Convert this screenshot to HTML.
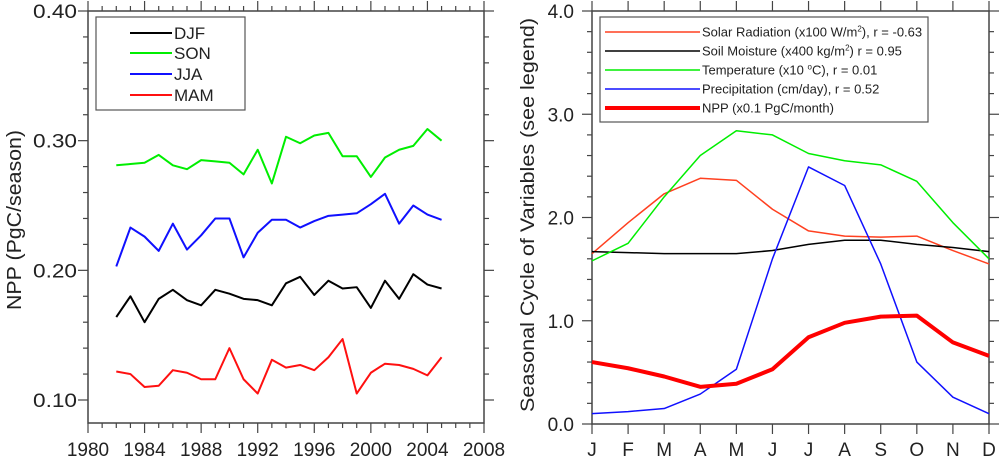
<!DOCTYPE html>
<html><head><meta charset="utf-8"><style>
body{margin:0;background:#fff;}
svg{display:block;font-family:"Liberation Sans",sans-serif;}
</style></head><body>
<svg id="c" width="1000" height="460"></svg>
<script>
const years=[1982,1983,1984,1985,1986,1987,1988,1989,1990,1991,1992,1993,1994,1995,1996,1997,1998,1999,2000,2001,2002,2003,2004,2005];
const djf=[0.164,0.180,0.160,0.178,0.185,0.177,0.173,0.185,0.182,0.178,0.177,0.173,0.190,0.195,0.181,0.192,0.186,0.187,0.171,0.192,0.178,0.197,0.189,0.186];
const son=[0.281,0.282,0.283,0.289,0.281,0.278,0.285,0.284,0.283,0.274,0.293,0.267,0.303,0.298,0.304,0.306,0.288,0.288,0.272,0.287,0.293,0.296,0.309,0.300];
const jja=[0.203,0.233,0.226,0.215,0.236,0.216,0.227,0.240,0.240,0.210,0.229,0.239,0.239,0.233,0.238,0.242,0.243,0.244,0.251,0.259,0.236,0.250,0.243,0.239];
const mam=[0.122,0.120,0.110,0.111,0.123,0.121,0.116,0.116,0.140,0.116,0.105,0.131,0.125,0.127,0.123,0.133,0.147,0.105,0.121,0.128,0.127,0.124,0.119,0.133];
const xTicksL=[1980,1984,1988,1992,1996,2000,2004,2008];
const yTicksL=[0.10,0.20,0.30,0.40];
const months=["J","F","M","A","M","J","J","A","S","O","N","D"];
const solar=[1.65,1.95,2.23,2.38,2.36,2.08,1.87,1.82,1.81,1.82,1.68,1.55];
const soil=[1.67,1.66,1.65,1.65,1.65,1.68,1.74,1.78,1.78,1.74,1.71,1.67];
const temp=[1.58,1.75,2.20,2.60,2.84,2.80,2.62,2.55,2.51,2.35,1.95,1.60];
const precip=[0.10,0.12,0.15,0.29,0.53,1.60,2.49,2.31,1.55,0.60,0.26,0.10];
const npp=[0.60,0.54,0.46,0.36,0.39,0.53,0.84,0.98,1.04,1.05,0.79,0.66];
const yTicksR=[0,1,2,3,4];

const svg=document.getElementById('c');
const NS='http://www.w3.org/2000/svg';
function el(tag,attrs,parent){const e=document.createElementNS(NS,tag);for(const k in attrs)e.setAttribute(k,attrs[k]);(parent||svg).appendChild(e);return e;}

const L={x0:88,x1:484,y0:423,y1:11};
const lx=v=>L.x0+(v-1980)/28*(L.x1-L.x0);
const ly=v=>400-(v-0.10)/0.30*389;
const R={x0:592,x1:989,y0:424,y1:11};
const rx=i=>R.x0+i/11*(R.x1-R.x0);
const ry=v=>R.y0-v/4*(R.y0-R.y1);

function frame(A,name){
  const r=el('rect',{x:A.x0,y:A.y1,width:A.x1-A.x0,height:A.y0-A.y1,fill:'none',stroke:'#444','stroke-width':1.5});
  
  
}
frame(L,'left-plot-frame');frame(R,'right-plot-frame');

const gt=el('g',{stroke:'#444','stroke-width':1.2});


for(let y=1980;y<=2008;y++){const maj=y%4===0;const len=maj?10:5;const x=lx(y);
  el('line',{x1:x,y1:L.y0,x2:x,y2:L.y0+len},gt);el('line',{x1:x,y1:L.y1,x2:x,y2:L.y1-len},gt);}
for(let k=0;k<=16;k++){const v=0.08+k*0.02;const y=ly(v);if(y>L.y0+0.5)continue;const maj=(k%5===1);const len=maj?10:5;
  el('line',{x1:L.x0,y1:y,x2:L.x0-len,y2:y},gt);el('line',{x1:L.x1,y1:y,x2:L.x1+len,y2:y},gt);}
for(let i=0;i<12;i++){const x=rx(i);el('line',{x1:x,y1:R.y0,x2:x,y2:R.y0+10},gt);el('line',{x1:x,y1:R.y1,x2:x,y2:R.y1-10},gt);}
for(let k=0;k<=20;k++){const v=k*0.2;const len=k%5===0?10:5;const y=ry(v);
  el('line',{x1:R.x0,y1:y,x2:R.x0-len,y2:y},gt);el('line',{x1:R.x1,y1:y,x2:R.x1+len,y2:y},gt);}

xTicksL.forEach(v=>{const t=el('text',{x:lx(v),y:456,'font-size':19,'text-anchor':'middle',fill:'#222'});t.textContent=v;
  });
yTicksL.forEach(v=>{const t=el('text',{x:33,y:ly(v)+7,'font-size':19,textLength:44,lengthAdjust:'spacingAndGlyphs',fill:'#222'});t.textContent=v.toFixed(2);
  });
months.forEach((m,i)=>{const t=el('text',{x:rx(i),y:456,'font-size':19,'text-anchor':'middle',fill:'#222'});t.textContent=m;
  });
yTicksR.forEach(v=>{const t=el('text',{x:574,y:ry(v)+7,'font-size':19,'text-anchor':'end',fill:'#222'});t.textContent=v.toFixed(1);
  });

let t=el('text',{x:0,y:0,'font-size':20,'text-anchor':'middle',fill:'#222',textLength:180,lengthAdjust:'spacingAndGlyphs',transform:'translate(21,220) rotate(-90)'});t.textContent='NPP (PgC/season)';

t=el('text',{x:0,y:0,'font-size':19,'text-anchor':'middle',fill:'#222',textLength:394,lengthAdjust:'spacingAndGlyphs',transform:'translate(534,215) rotate(-90)'});t.textContent='Seasonal Cycle of Variables (see legend)';


function line(xs,ys,color,w,name){
  const p=el('polyline',{points:xs.map((x,i)=>x+','+ys[i]).join(' '),fill:'none',stroke:color,'stroke-width':w,'stroke-linejoin':'round'});
  
}
const LX=years.map(lx);
line(LX,son.map(ly),'#00ee00',2,'son-line');
line(LX,jja.map(ly),'#1010ff',2,'jja-line');
line(LX,djf.map(ly),'#000',2,'djf-line');
line(LX,mam.map(ly),'#ff1010',2,'mam-line');
const RX=months.map((m,i)=>rx(i));
line(RX,solar.map(ry),'#ff4020',1.5,'solar-radiation-line');
line(RX,soil.map(ry),'#000',1.5,'soil-moisture-line');
line(RX,temp.map(ry),'#00ee00',1.5,'temperature-line');
line(RX,precip.map(ry),'#1010ff',1.5,'precipitation-line');
line(RX,npp.map(ry),'#ff0000',4,'npp-line');

function legend(x,y,w,h,items,name,fs,lx0,lx1,ys){
  const g=el('g',{});
  el('rect',{x,y,width:w,height:h,fill:'#fff',stroke:'#555','stroke-width':1.2},g);
  items.forEach((it,i)=>{const yy=ys[i];
    el('line',{x1:lx0,y1:yy,x2:lx1,y2:yy,stroke:it[1],'stroke-width':it[2]},g);
    const tx=el('text',{x:lx1+2,y:yy+fs*0.36,'font-size':fs,fill:'#222'},g);tx.innerHTML=it[0];
    });
}
legend(96,17,149,93,[['DJF','#000',2],['SON','#00ee00',2],['JJA','#1010ff',2],['MAM','#ff1010',2]],'left-legend',17,130,172,[33,53,74,95]);
legend(600,17,328,105,[
 ['Solar Radiation (x100 W/m<tspan font-size="8" dy="-5">2</tspan><tspan dy="5">), r = -0.63</tspan>','#ff4020',1.5],
 ['Soil Moisture (x400 kg/m<tspan font-size="8" dy="-5">2</tspan><tspan dy="5">) r =  0.95</tspan>','#000',1.5],
 ['Temperature (x10 <tspan font-size="8" dy="-5">o</tspan><tspan dy="5">C), r =  0.01</tspan>','#00ee00',1.5],
 ['Precipitation (cm/day), r =  0.52','#1010ff',1.5],
 ['NPP (x0.1 PgC/month)','#ff0000',4]],'right-legend',13,605,700,[32,51,70,89,108]);
</script>
</body></html>
